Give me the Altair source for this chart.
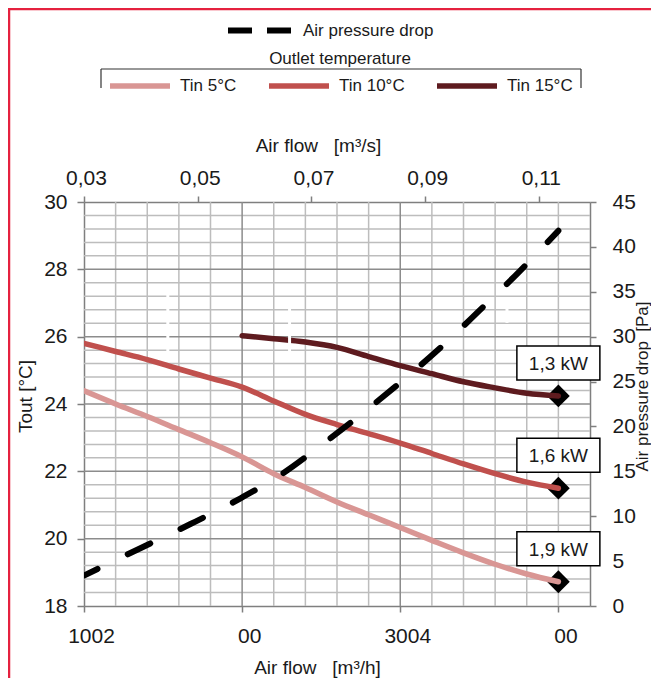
import altair as alt
import pandas as pd

FONT = "Liberation Sans"
INK = "#1a1a1a"
NB = "\u00a0"

# ---------------- axes: ticks and labels ----------------
flow_domain = [100, 420]                      # m3/h (bottom axis)
flow_ticks = [100, 200, 300, 400]
flow_tick_labels = ["1002", "00", "3004", "00"]
flow_s_domain = [0.03, 0.119]                 # m3/s (top axis)
flow_s_ticks = [0.03, 0.05, 0.07, 0.09, 0.11]
tout_domain = [18, 30]                        # degC (left axis)
tout_ticks = [18, 20, 22, 24, 26, 28, 30]
dp_domain = [0, 45]                           # Pa (right axis)
dp_ticks = [0, 5, 10, 15, 20, 25, 30, 35, 40, 45]

# ---------------- grid ----------------
grid_flow_minor = [120, 140, 160, 180, 220, 240, 260, 280, 320, 340, 360, 380, 400]
grid_flow_major = [200, 300]
grid_t_major = [20, 22, 24, 26, 28]
grid_t_minor = [round(18 + 0.4 * i, 1) for i in range(1, 30) if i % 5]

# ---------------- series ----------------
series_names = ["Tin 5°C", "Tin 10°C", "Tin 15°C"]
series_colors = ["#d99694", "#c0504d", "#5e1b1f"]

flow_a = [100, 120, 140, 160, 180, 200, 220, 240, 260, 280, 300, 320, 340, 360, 380, 400]
tout_5 = [24.39, 24.00, 23.63, 23.24, 22.85, 22.43, 21.93, 21.52, 21.09, 20.71, 20.33, 19.95,
          19.58, 19.24, 18.95, 18.72]
tout_10 = [25.80, 25.56, 25.32, 25.04, 24.77, 24.50, 24.09, 23.69, 23.39, 23.12, 22.84, 22.53,
           22.22, 21.93, 21.68, 21.50]
flow_b = [200, 220, 240, 260, 280, 300, 320, 340, 360, 380, 400]
tout_15 = [26.03, 25.94, 25.84, 25.68, 25.41, 25.14, 24.90, 24.66, 24.48, 24.32, 24.24]

flow_dp = [100, 134, 167, 199, 226, 250, 275, 300, 325, 350, 375, 400]
dp_values = [3.4, 6.3, 9.1, 12.0, 14.8, 17.9, 21.3, 24.9, 28.7, 32.9, 37.2, 41.8]
dp_name = "Air pressure drop"

cap_labels = ["1,3 kW", "1,6 kW", "1,9 kW"]
cap_flow = [400, 400, 400]
cap_tout = [24.24, 21.50, 18.72]

# small white cuts visible in the original drawing
cut_flow = [153, 230, 367.5]
cut_t1 = [27.24, 26.85, 27.09]
cut_t2 = [25.55, 25.55, 26.41]

# ---------------- tables ----------------
curves = pd.concat([
    pd.DataFrame({"flow": flow_a, "T": tout_5, "series": series_names[0]}),
    pd.DataFrame({"flow": flow_a, "T": tout_10, "series": series_names[1]}),
    pd.DataFrame({"flow": flow_b, "T": tout_15, "series": series_names[2]}),
], ignore_index=True)
dp_df = pd.DataFrame({"flow": flow_dp, "dp": dp_values, "series": dp_name})
caps = pd.DataFrame({"flow": cap_flow, "T": cap_tout, "label": cap_labels})
cuts = pd.DataFrame({"flow": cut_flow, "T": cut_t1, "T2": cut_t2})
one = pd.DataFrame({"k": [0]})

# ---------------- encodings ----------------
bottom_expr = "".join(f"datum.value == {v} ? '{l}' : " for v, l in zip(flow_ticks, flow_tick_labels)) + "''"

x_flow = alt.X(
    "flow:Q",
    scale=alt.Scale(domain=flow_domain, nice=False, zero=False),
    axis=alt.Axis(orient="bottom", values=flow_ticks, labelExpr=bottom_expr, labelOffset=7,
                  labelFlush=False, tickSize=6, labelPadding=13, grid=False,
                  title=f"Air flow{NB}{NB}{NB}[m³/h]", titleX=233, titleY=61,
                  titleBaseline="middle", titleAlign="center"),
)
y_t = alt.Y(
    "T:Q",
    scale=alt.Scale(domain=tout_domain, nice=False, zero=False),
    axis=alt.Axis(orient="left", values=tout_ticks, tickSize=7, labelPadding=10, grid=False,
                  labelFlush=False,
                  title="Tout [°C]", titleX=-59, titleY=194, titleAngle=270,
                  titleBaseline="middle", titleAlign="center"),
)

base = alt.Chart(curves)

minor_v = alt.Chart(pd.DataFrame({"flow": grid_flow_minor})).mark_rule(
    color="#bdbdbd", strokeWidth=1.5).encode(x=x_flow)
major_v = alt.Chart(pd.DataFrame({"flow": grid_flow_major})).mark_rule(
    color="#8c8c8c", strokeWidth=1.5).encode(x=x_flow)
minor_h = alt.Chart(pd.DataFrame({"T": grid_t_minor})).mark_rule(
    color="#bdbdbd", strokeWidth=1.5).encode(y=y_t)
major_h = alt.Chart(pd.DataFrame({"T": grid_t_major})).mark_rule(
    color="#8c8c8c", strokeWidth=1.5).encode(y=y_t)

diamonds = alt.Chart(caps).mark_point(
    shape="diamond", filled=True, color="black", size=520, opacity=1).encode(x=x_flow, y=y_t)

lines = base.mark_line(strokeWidth=5.5, strokeCap="round", interpolate="monotone", clip=True).encode(
    x=x_flow, y=y_t,
    color=alt.Color(
        "series:N",
        scale=alt.Scale(domain=series_names, range=series_colors),
        legend=alt.Legend(
            orient="none", legendX=23, legendY=-151, direction="horizontal",
            title="Outlet temperature", titleAnchor="middle", titleFontSize=17,
            titleFontWeight="normal", titleFont=FONT, titleColor=INK, titlePadding=-15,
            labelFontSize=17, labelFont=FONT, labelColor=INK, labelOffset=7,
            symbolType="stroke", symbolSize=3600, symbolStrokeWidth=5.5,
            columnPadding=21, padding=0,
        ),
    ),
    detail="series:N",
)

cut_rules = alt.Chart(cuts).mark_rule(color="white", strokeWidth=3).encode(
    x=x_flow, y=y_t, y2="T2:Q")

boxes = alt.Chart(caps).mark_rect(
    fill="white", stroke="black", strokeWidth=1.5,
    xOffset=-41.5, x2Offset=41.5, yOffset=-50, y2Offset=-16,
).encode(x=x_flow, x2="flow:Q", y=y_t, y2="T:Q")

box_text = alt.Chart(caps).mark_text(
    dy=-32, fontSize=19, font=FONT, color=INK, baseline="middle", align="center"
).encode(x=x_flow, y=y_t, text="label:N")

# decorative frame and legend bracket (pixel positions in the drawing)
frame_top = alt.Chart(one).mark_rule(color="#e5213f", strokeWidth=2.5).encode(
    x=alt.value(-76), x2=alt.value(570), y=alt.value(-193))
frame_left = alt.Chart(one).mark_rule(color="#e5213f", strokeWidth=2.5).encode(
    x=alt.value(-75), y=alt.value(-194), y2=alt.value(480))
br_top = alt.Chart(one).mark_rule(color="#333333", strokeWidth=1.2).encode(
    x=alt.value(17), x2=alt.value(497), y=alt.value(-133))
br_left = alt.Chart(one).mark_rule(color="#333333", strokeWidth=1.2).encode(
    x=alt.value(17), y=alt.value(-133), y2=alt.value(-114))
br_right = alt.Chart(one).mark_rule(color="#333333", strokeWidth=1.2).encode(
    x=alt.value(497), y=alt.value(-133), y2=alt.value(-114))

layer_t = alt.layer(
    minor_v, minor_h, major_v, major_h, diamonds, lines, cut_rules, boxes, box_text,
    frame_top, frame_left, br_top, br_left, br_right,
)

# ---------------- pressure drop (right axis) ----------------
x_flow_p = alt.X("flow:Q", scale=alt.Scale(domain=flow_domain, nice=False, zero=False), axis=None)
y_dp = alt.Y(
    "dp:Q",
    scale=alt.Scale(domain=dp_domain, nice=False, zero=False),
    axis=alt.Axis(orient="right", values=dp_ticks, tickSize=6, labelPadding=16, grid=False,
                  labelFlush=False,
                  title=f"Air pressure drop{NB}{NB}[Pa]", titleX=52, titleY=184, titleAngle=270,
                  titleFontSize=17, titleBaseline="middle", titleAlign="center"),
)
dp_line = alt.Chart(dp_df).mark_line(
    color="black", strokeWidth=6, strokeCap="round", strokeDash=[25, 33.6], strokeDashOffset=10,
    interpolate="monotone", clip=True,
).encode(x=x_flow_p, y=y_dp)
dp_legend = alt.Chart(dp_df.head(1)).mark_line(
    strokeWidth=6, strokeDash=[24, 15]
).encode(
    x=x_flow_p, y=y_dp,
    color=alt.Color("series:N", scale=alt.Scale(domain=[dp_name], range=["black"]),
                    legend=alt.Legend(orient="none", legendX=141, legendY=-206, title=None,
                                      labelFontSize=17, labelFont=FONT, labelColor=INK,
                                      labelOffset=9, symbolType="stroke", symbolSize=3969,
                                      symbolDash=[24, 15], symbolStrokeWidth=6, padding=0)),
)
layer_p = alt.layer(dp_line, dp_legend)

# ---------------- top axis (m3/s) ----------------
top_axis = alt.Chart(pd.DataFrame({"q": flow_s_ticks})).mark_point(opacity=0).encode(
    x=alt.X("q:Q", scale=alt.Scale(domain=flow_s_domain, nice=False, zero=False),
            axis=alt.Axis(orient="top", values=flow_s_ticks,
                          labelExpr="replace(format(datum.value, '.2f'), '.', ',')",
                          labelFlush=False, labelOffset=2,
                          tickSize=6, labelPadding=8, grid=False,
                          title=f"Air flow{NB}{NB}{NB}[m³/s]", titleX=234, titleY=-57,
                          titleBaseline="middle", titleAlign="center"))
)

chart = alt.layer(layer_t, layer_p, top_axis).resolve_scale(
    x="independent", y="independent", color="independent"
).properties(
    width=506, height=404,
    autosize=alt.AutoSizeParams(type="none"),
    padding={"left": 76, "top": 194, "right": 61, "bottom": 72},
    background="white",
).configure_view(stroke=None).configure_axis(
    labelFont=FONT, titleFont=FONT, labelFontSize=21, titleFontSize=19,
    labelColor=INK, titleColor=INK, titleFontWeight="normal",
    domainColor="#7f7f7f", domainWidth=1.5, tickColor="#7f7f7f", tickWidth=1.5,
).configure_legend(labelFont=FONT, titleFont=FONT)

chart.save("out.html", embed_options={"renderer": "svg", "actions": False})
